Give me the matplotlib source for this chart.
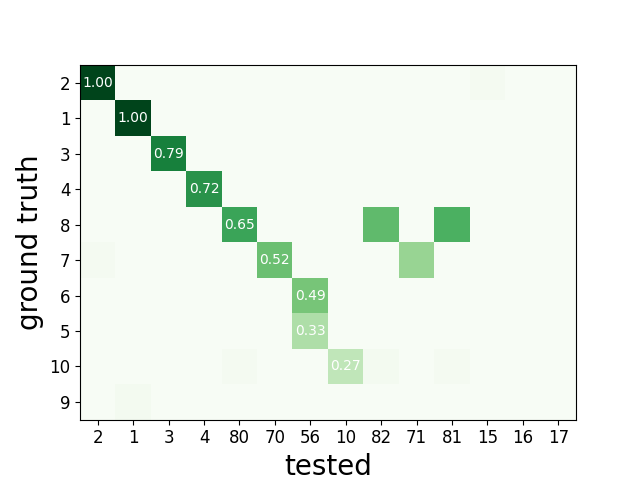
import numpy as np
import matplotlib
matplotlib.use("Agg")
import matplotlib.pyplot as plt

rows = ["2", "1", "3", "4", "8", "7", "6", "5", "10", "9"]
cols = ["2", "1", "3", "4", "80", "70", "56", "10", "82", "71", "81", "15", "16", "17"]

# (row_label, col_label, value)
diag_values = [1.00, 1.00, 0.79, 0.72, 0.65, 0.52, 0.49, 0.33, 0.27]
diag_cols = ["2", "1", "3", "4", "80", "70", "56", "56", "10"]
diag_rows = ["2", "1", "3", "4", "8", "7", "6", "5", "10"]

off_rows = ["2", "8", "8", "7", "7", "10", "10", "10", "9"]
off_cols = ["15", "82", "81", "2", "71", "80", "82", "81", "1"]
off_values = [0.02, 0.55, 0.60, 0.02, 0.40, 0.02, 0.03, 0.02, 0.03]

M = np.zeros((len(rows), len(cols)))
for r, c, v in zip(diag_rows, diag_cols, diag_values):
    M[rows.index(r), cols.index(c)] = v
for r, c, v in zip(off_rows, off_cols, off_values):
    M[rows.index(r), cols.index(c)] = v

fig, ax = plt.subplots(figsize=(6.4, 4.8), dpi=100)
ax.imshow(M, cmap="Greens", vmin=0, vmax=1)
for r, c, v in zip(diag_rows, diag_cols, diag_values):
    ax.text(cols.index(c), rows.index(r), f"{v:.2f}", ha="center", va="center",
            color="white", fontsize=10)
ax.set_xticks(range(len(cols)))
ax.set_xticklabels(cols, fontsize=12)
ax.set_yticks(range(len(rows)))
ax.set_yticklabels(rows, fontsize=12)
ax.set_xlabel("tested", fontsize=20)
ax.set_ylabel("ground truth", fontsize=20)
fig.savefig("out.png", dpi=100)
